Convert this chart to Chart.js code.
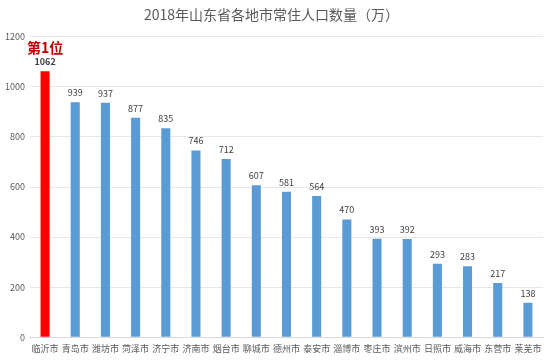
<!DOCTYPE html>
<html><head><meta charset="utf-8">
<script src="https://cdn.jsdelivr.net/npm/chart.js@4"></script>
<style>html,body{margin:0;padding:0;background:#fff}#w{width:554px;height:362px}</style>
</head><body><div id="w"><canvas id="c" width="554" height="362"></canvas></div>
<script>
const categories = ["临沂市","青岛市","潍坊市","菏泽市","济宁市","济南市","烟台市","聊城市","德州市","泰安市","淄博市","枣庄市","滨州市","日照市","威海市","东营市","莱芜市"];
const population = [1062,939,937,877,835,746,712,607,581,564,470,393,392,293,283,217,138];
const yTicks = [0,200,400,600,800,1000,1200];
const titleText = "2018年山东省各地市常住人口数量（万）";
const topLabel = "第1位";
const FONT = "'Noto Sans CJK SC','Microsoft YaHei',sans-serif";

const labelPlugin = {
  id: 'labels',
  afterDatasetsDraw(chart) {
    const ctx = chart.ctx;
    const meta = chart.getDatasetMeta(0);
    ctx.save();
    ctx.textAlign = 'center';
    ctx.textBaseline = 'bottom';
    meta.data.forEach((bar, i) => {
      ctx.fillStyle = '#404040';
      ctx.font = (i === 0 ? 'bold ' : '') + '9px ' + FONT;
      ctx.fillText(String(population[i]), bar.x, bar.y - 5);
      if (i === 0) {
        ctx.fillStyle = '#c00000';
        ctx.font = 'bold 14px ' + FONT;
        ctx.fillText(topLabel, bar.x, bar.y - 17);
      }
    });
    ctx.restore();
  }
};

new Chart(document.getElementById('c'), {
  type: 'bar',
  data: {
    labels: categories,
    datasets: [{
      data: population,
      backgroundColor: population.map((v, i) => i === 0 ? '#ff0000' : '#5b9bd5'),
      barPercentage: 0.3,
      categoryPercentage: 1.0
    }]
  },
  options: {
    responsive: false,
    animation: false,
    layout: { padding: { left: 0, right: 11, top: 4, bottom: 2 } },
    plugins: {
      legend: { display: false },
      tooltip: { enabled: false },
      title: {
        display: true, text: titleText, color: '#595959',
        font: { family: FONT, size: 14, weight: 'normal' },
        padding: { top: 2, bottom: 14 }
      }
    },
    scales: {
      x: {
        grid: { display: false, drawTicks: false },
        border: { display: true, color: '#d9d9d9' },
        ticks: { color: '#595959', font: { family: FONT, size: 9 }, maxRotation: 0, autoSkip: false, padding: 6 }
      },
      y: {
        min: 0, max: 1200,
        afterBuildTicks(axis) { axis.ticks = yTicks.map(v => ({ value: v })); },
        grid: { color: '#e6e6e6', drawTicks: false },
        border: { display: false },
        ticks: { color: '#595959', font: { family: FONT, size: 9 }, padding: 5, callback: v => String(v) }
      }
    }
  },
  plugins: [labelPlugin]
});
</script></body></html>
